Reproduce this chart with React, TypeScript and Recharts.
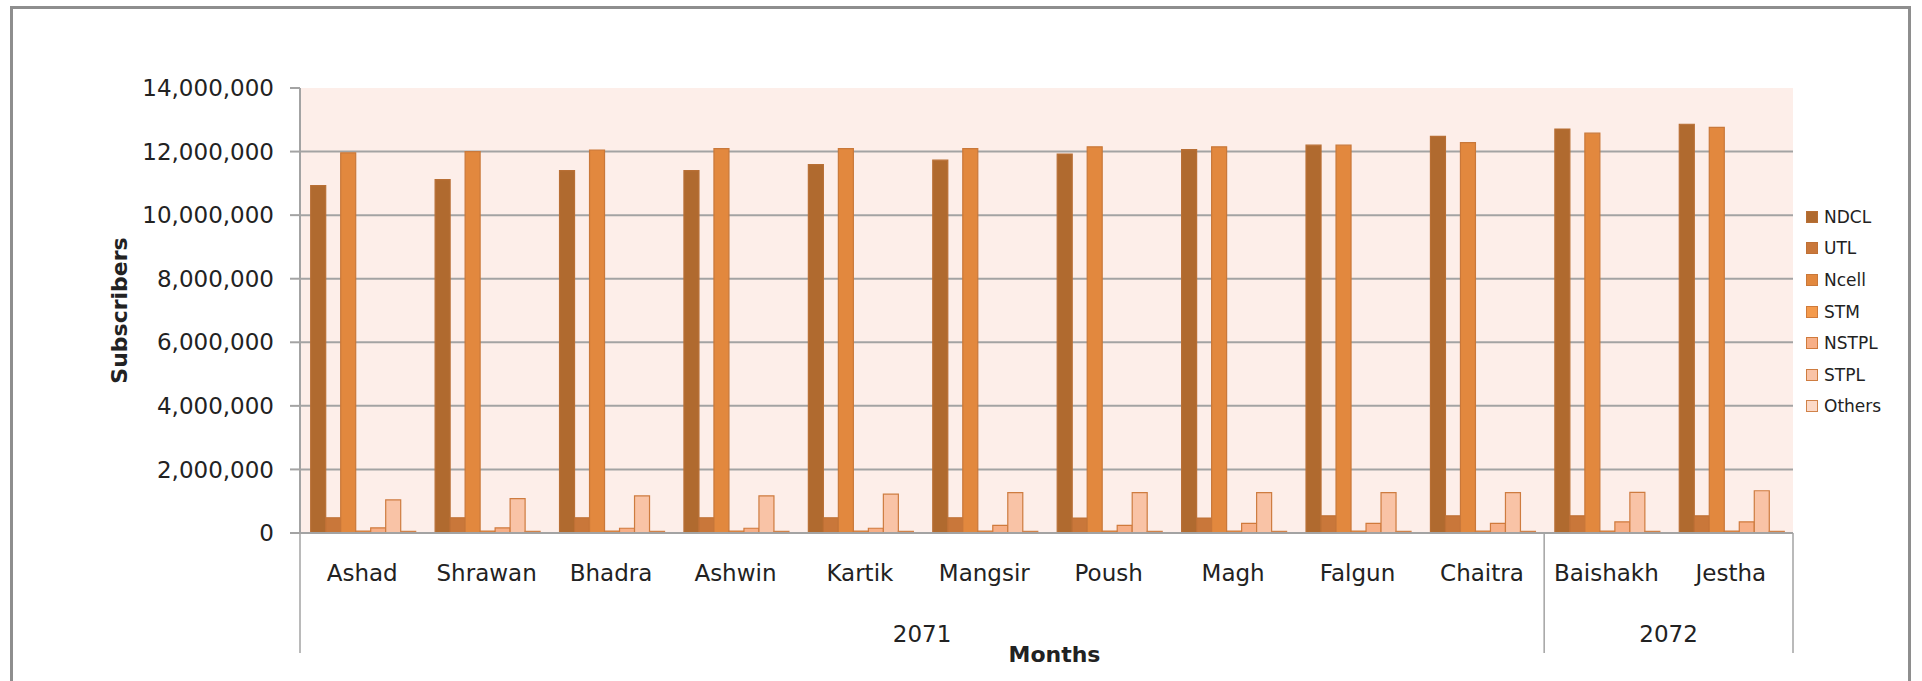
import { BarChart, Bar, XAxis, YAxis, CartesianGrid, Legend, Label } from "recharts";

const months = ["Ashad", "Shrawan", "Bhadra", "Ashwin", "Kartik", "Mangsir", "Poush", "Magh", "Falgun", "Chaitra", "Baishakh", "Jestha"];
const years = ["2071", "2071", "2071", "2071", "2071", "2071", "2071", "2071", "2071", "2071", "2072", "2072"];

const ndcl = [10930000, 11120000, 11400000, 11400000, 11590000, 11730000, 11920000, 12060000, 12200000, 12480000, 12710000, 12860000];
const utl = [480000, 480000, 480000, 480000, 480000, 480000, 470000, 470000, 540000, 540000, 540000, 540000];
const ncell = [11960000, 12000000, 12050000, 12090000, 12090000, 12090000, 12150000, 12150000, 12200000, 12280000, 12580000, 12760000];
const stm = [60000, 60000, 60000, 60000, 60000, 60000, 60000, 60000, 60000, 60000, 60000, 60000];
const nstpl = [160000, 160000, 150000, 150000, 150000, 240000, 240000, 300000, 300000, 300000, 350000, 350000];
const stpl = [1040000, 1080000, 1170000, 1170000, 1220000, 1270000, 1270000, 1270000, 1270000, 1270000, 1280000, 1330000];
const others = [50000, 50000, 50000, 50000, 50000, 50000, 50000, 50000, 50000, 50000, 50000, 50000];

const yTicks = [0, 2000000, 4000000, 6000000, 8000000, 10000000, 12000000, 14000000];

const series = [
  { key: "ndcl", name: "NDCL", values: ndcl, fill: "#B06A2F", stroke: "#B86F35" },
  { key: "utl", name: "UTL", values: utl, fill: "#C9773A", stroke: "#BF7035" },
  { key: "ncell", name: "Ncell", values: ncell, fill: "#E2883E", stroke: "#C9783A" },
  { key: "stm", name: "STM", values: stm, fill: "#F49A4C", stroke: "#CF7A3A" },
  { key: "nstpl", name: "NSTPL", values: nstpl, fill: "#F7AF87", stroke: "#D07A3C" },
  { key: "stpl", name: "STPL", values: stpl, fill: "#F9C3A6", stroke: "#CE7C40" },
  { key: "others", name: "Others", values: others, fill: "#FCD9C7", stroke: "#D0824A" },
];

const rows = months.map((month, i) => {
  const row: Record<string, string | number> = { month };
  series.forEach((s) => (row[s.key] = s.values[i]));
  return row;
});

// year groups of the two-level category axis
const spans: { label: string; start: number; end: number }[] = [];
years.forEach((y, i) => {
  const last = spans[spans.length - 1];
  if (last && last.label === y) last.end = i + 1;
  else spans.push({ label: y, start: i, end: i + 1 });
});

const font = "DejaVu Sans, sans-serif";
const ink = "#222222";
const rule = "#A3A3A3";

const fmt = (v: number) => v.toLocaleString("en-US");

function YearTick(props: any) {
  const { x, y, payload, index, width, visibleTicksCount } = props;
  const half = payload && payload.offset > 0 ? payload.offset : width / visibleTicksCount / 2;
  const span = spans.find((s) => s.start === index);
  if (!span) return null;
  const left = x - half;
  const right = left + (span.end - span.start) * 2 * half;
  const isLast = span === spans[spans.length - 1];
  return (
    <g>
      <line x1={left} x2={left} y1={y - 92} y2={y + 28} stroke={rule} strokeWidth={1.5} />
      {isLast && <line x1={right} x2={right} y1={y - 92} y2={y + 28} stroke={rule} strokeWidth={1.5} />}
      <text x={(left + right) / 2} y={y} dy="0.75em" textAnchor="middle" fill={ink} fontSize={23} fontFamily={font}>
        {span.label}
      </text>
    </g>
  );
}

function LegendContent() {
  return (
    <div style={{ fontFamily: font, fontSize: 17, color: ink }}>
      {series.map((s) => (
        <div key={s.key} style={{ display: "flex", alignItems: "center", height: 31.6 }}>
          <span
            style={{
              display: "inline-block",
              width: 12,
              height: 12,
              boxSizing: "border-box",
              background: s.fill,
              border: `1.5px solid ${s.stroke}`,
              marginRight: 6,
            }}
          />
          <span>{s.name}</span>
        </div>
      ))}
    </div>
  );
}

export default function App() {
  return (
    <div
      style={{
        position: "absolute",
        left: 0,
        top: 0,
        width: 1922,
        height: 681,
        overflow: "hidden",
        background: "#ffffff",
      }}
    >
      <div
        style={{
          position: "absolute",
          left: 10,
          top: 6,
          width: 1901,
          height: 720,
          boxSizing: "border-box",
          border: "3px solid #8E8E8E",
        }}
      />
      <BarChart
        width={1922}
        height={681}
        data={rows}
        margin={{ top: 88, right: 129, bottom: 28, left: 0 }}
        barGap={0}
        barCategoryGap="8.6%"
      >
        <CartesianGrid
          xAxisId="month"
          vertical={false}
          fill="#FDEEE9"
          fillOpacity={1}
          stroke={rule}
          strokeWidth={2}
          horizontalValues={yTicks.slice(0, -1)}
        />
        <XAxis
          xAxisId="month"
          dataKey="month"
          height={70}
          interval={0}
          tickSize={0}
          tickMargin={32}
          tickLine={false}
          axisLine={{ stroke: rule, strokeWidth: 2 }}
          tick={{ fill: ink, fontSize: 23, fontFamily: font }}
        />
        <XAxis
          xAxisId="year"
          dataKey="month"
          interval={0}
          height={50}
          tickSize={0}
          tickMargin={22}
          tickLine={false}
          axisLine={false}
          tick={<YearTick />}
        >
          <Label
            value="Months"
            position="bottom"
            offset={-7}
            dx={8}
            style={{ fill: ink, fontSize: 22, fontWeight: "bold", fontFamily: font }}
          />
        </XAxis>
        <YAxis
          domain={[0, 14000000]}
          ticks={yTicks}
          interval={0}
          width={300}
          tickSize={10}
          tickMargin={16}
          tickFormatter={fmt}
          axisLine={{ stroke: rule, strokeWidth: 2 }}
          tickLine={{ stroke: rule, strokeWidth: 2 }}
          tick={{ fill: ink, fontSize: 23, fontFamily: font }}
        >
          <Label
            value="Subscribers"
            angle={-90}
            position="insideLeft"
            offset={119}
            style={{ textAnchor: "middle", fill: ink, fontSize: 22, fontWeight: "bold", fontFamily: font }}
          />
        </YAxis>
        <Legend
          layout="vertical"
          align="center"
          verticalAlign="middle"
          content={<LegendContent />}
          wrapperStyle={{ left: 1806, top: 201, width: "auto", height: "auto" }}
        />
        {series.map((s) => (
          <Bar
            key={s.key}
            xAxisId="month"
            dataKey={s.key}
            name={s.name}
            fill={s.fill}
            stroke={s.stroke}
            strokeWidth={1.2}
            isAnimationActive={false}
          />
        ))}
      </BarChart>
    </div>
  );
}
